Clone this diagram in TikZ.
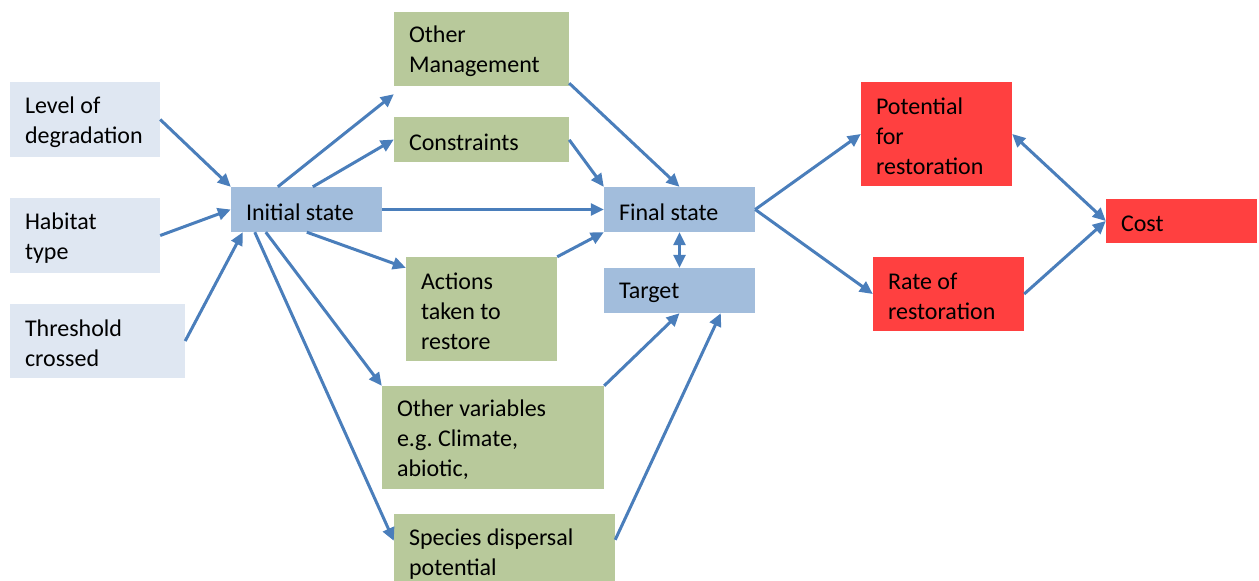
\documentclass[tikz,border=0pt]{standalone}
\usepackage{fontspec}
\setmainfont{Carlito}
\usetikzlibrary{arrows.meta}
\definecolor{lineblue}{HTML}{4A7EBB}
\definecolor{paleblue}{HTML}{DFE7F2}
\definecolor{midblue}{HTML}{A2BDDC}
\definecolor{sage}{HTML}{B8C99B}
\definecolor{redbox}{HTML}{FF4040}
\tikzset{
  bx/.style={rectangle, inner sep=0pt, anchor=center},
  txt/.style={inner sep=0pt, align=flush left, yshift=-2.5pt,
    font=\fontsize{24}{30}\selectfont\frenchspacing, text=black},
  pale/.style={bx, fill=paleblue},
  mid/.style={bx, fill=midblue},
  grn/.style={bx, fill=sage},
  rd/.style={bx, fill=redbox},
  arr/.style={draw=lineblue, line width=3pt, -{Triangle[length=13pt,width=12pt]}},
  darr/.style={draw=lineblue, line width=3pt, {Triangle[length=13pt,width=12pt]}-{Triangle[length=13pt,width=12pt]}}
}
\begin{document}
\begin{tikzpicture}[x=1pt,y=-1pt]
\useasboundingbox (0,0) rectangle (1259,581);
\clip (0,0) rectangle (1259,581);
% left inputs
\node[pale, minimum width=150pt, minimum height=75pt, label={[txt, text width=120pt]center:{Level of\\degradation}}] (lod) at (85,119.5) {};
\node[pale, minimum width=150pt, minimum height=75pt, label={[txt, text width=120pt]center:{Habitat\\type}}] (hab) at (85,235.5) {};
\node[pale, minimum width=175pt, minimum height=74pt, label={[txt, text width=145pt]center:{Threshold\\crossed}}] (thr) at (97.5,341) {};
% states
\node[mid, minimum width=151pt, minimum height=45pt, label={[txt, text width=121pt]center:{Initial state}}] (ini) at (306.5,209.5) {};
\node[mid, minimum width=151pt, minimum height=45pt, label={[txt, text width=121pt]center:{Final state}}] (fin) at (679.5,209.5) {};
\node[mid, minimum width=151pt, minimum height=45pt, label={[txt, text width=121pt]center:{Target}}] (tar) at (679.5,290.5) {};
% green
\node[grn, minimum width=175pt, minimum height=74pt, label={[txt, text width=145pt]center:{Other\\Management}}] (om) at (481.5,49) {};
\node[grn, minimum width=175pt, minimum height=45pt, label={[txt, text width=145pt]center:{Constraints}}] (con) at (481.5,139.5) {};
\node[grn, minimum width=151pt, minimum height=104pt, label={[txt, text width=121pt]center:{Actions\\taken to\\restore}}] (act) at (481.5,309) {};
\node[grn, minimum width=222pt, minimum height=103pt, label={[txt, text width=192pt]center:{Other variables\\e.g. Climate,\\abiotic,}}] (ov) at (493,437.5) {};
\node[grn, minimum width=221pt, minimum height=76pt, label={[txt, text width=191pt]center:{Species dispersal\\potential}}] (sp) at (504.5,552) {};
% red
\node[rd, minimum width=151pt, minimum height=104pt, label={[txt, text width=121pt]center:{Potential\\for\\restoration}}] (pot) at (936.5,134) {};
\node[rd, minimum width=151pt, minimum height=74pt, label={[txt, text width=121pt]center:{Rate of\\restoration}}] (rat) at (948.5,294) {};
\node[rd, minimum width=151pt, minimum height=44pt, label={[txt, text width=121pt]center:{Cost}}] (cost) at (1181.5,221) {};
% connectors
\draw[arr] (lod.east) -- (ini.north west);
\draw[arr] (hab.east) -- (ini.west);
\draw[arr] (thr.east) -- ([xshift=12pt]ini.south west);
\draw[arr] ([xshift=47pt]ini.north west) -- ([yshift=-8pt]om.south west);
\draw[arr] ([xshift=82pt]ini.north west) -- (con.west);
\draw[arr] (ini.east) -- (fin.west);
\draw[arr] ([xshift=76pt]ini.south west) -- ([yshift=-11pt]act.north west);
\draw[arr] ([xshift=35pt]ini.south west) -- (ov.north west);
\draw[arr] ([xshift=24pt]ini.south west) -- ([yshift=-27pt]sp.north west);
\draw[arr] ([yshift=3pt]om.south east) -- (fin.north);
\draw[arr] ([yshift=-23pt]con.north east) -- (fin.north west);
\draw[arr] (act.north east) -- (fin.south west);
\draw[darr] (fin.south) -- (tar.north);
\draw[arr] (ov.north east) -- (tar.south);
\draw[arr] ([yshift=-26pt]sp.north east) -- ([xshift=117pt]tar.south west);
\draw[arr] (fin.east) -- (pot.west);
\draw[arr] (fin.east) -- (rat.west);
\draw[darr] (pot.east) -- (cost.west);
\draw[arr] (rat.east) -- (cost.west);
\end{tikzpicture}
\end{document}
